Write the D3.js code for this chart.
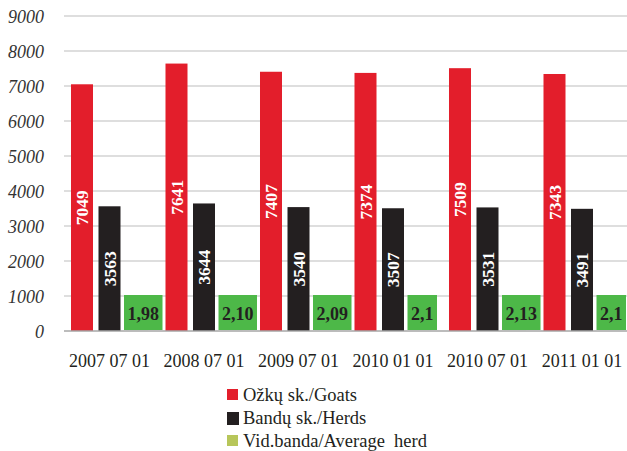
<!DOCTYPE html>
<html>
<head>
<meta charset="utf-8">
<script src="https://cdn.jsdelivr.net/npm/d3@7"></script>
<style>
  html, body { margin: 0; padding: 0; background: #fff; }
  svg { display: block; }
</style>
</head>
<body>
<div id="chart"></div>
<script>
// Goat numbers, herd counts and average herd size by date
const dates = ["2007 07 01", "2008 07 01", "2009 07 01", "2010 01 01", "2010 07 01", "2011 01 01"];
const goats = [7049, 7641, 7407, 7374, 7509, 7343];
const herds = [3563, 3644, 3540, 3507, 3531, 3491];
const avgHerd = [1.98, 2.10, 2.09, 2.1, 2.13, 2.1];
const avgHerdLabels = ["1,98", "2,10", "2,09", "2,1", "2,13", "2,1"];
const yTicks = [0, 1000, 2000, 3000, 4000, 5000, 6000, 7000, 8000, 9000];
const seriesNames = ["Ožkų sk./Goats", "Bandų sk./Herds", "Vid.banda/Average  herd"];
const seriesKeys = ["goats", "herds", "avg"];

const W = 627, H = 451;
const FONT = '"Liberation Serif", "Times New Roman", serif';
const colors = { goats: "#e31e2b", herds: "#231f20", avg: "#4db848" };
const legendColors = ["#e31e2b", "#231f20", "#b7c65a"];

const svg = d3.select("#chart").append("svg")
  .attr("width", W).attr("height", H);

const y = d3.scaleLinear().domain([0, 9000]).range([331, 16]);
const x0 = d3.scaleBand().domain(dates).range([62.25, 629.25]).padding(0);
const x1 = d3.scaleBand().domain(seriesKeys).range([0, x0.bandwidth()])
  .paddingInner(0.2).paddingOuter(0.318);

// Horizontal gridlines
svg.append("g").selectAll("line")
  .data(yTicks.filter(t => t > 0))
  .join("line")
  .attr("x1", 64).attr("x2", W)
  .attr("y1", d => y(d)).attr("y2", d => y(d))
  .attr("stroke", "#d3d3d3").attr("stroke-width", 1.6);

// Y axis labels
const yAxis = d3.axisLeft(y).tickValues(yTicks).tickFormat(d3.format("d"))
  .tickSize(0).tickPadding(0);
const gy = svg.append("g").attr("transform", "translate(44,0)").call(yAxis);
gy.select(".domain").remove();
gy.selectAll("text")
  .style("font-family", FONT)
  .style("font-style", "italic")
  .style("font-size", "18px")
  .attr("fill", "#333")
  .attr("dy", "0.34em");

const rows = dates.map((d, i) => ({
  date: d, goats: goats[i], herds: herds[i], avg: avgHerd[i], avgLabel: avgHerdLabels[i]
}));

const groups = svg.append("g").selectAll("g")
  .data(rows).join("g")
  .attr("transform", d => `translate(${x0(d.date)},0)`);

// Goats and herds bars with rotated value labels
["goats", "herds"].forEach(k => {
  groups.append("rect")
    .attr("x", x1(k)).attr("width", x1.bandwidth())
    .attr("y", d => y(d[k])).attr("height", d => y(0) - y(d[k]))
    .attr("fill", colors[k]);
  groups.append("text")
    .attr("transform", d => `translate(${x1(k) + x1.bandwidth() / 2},${(y(d[k]) + y(0)) / 2}) rotate(-90)`)
    .attr("text-anchor", "middle").attr("dy", "0.35em")
    .style("font-family", FONT)
    .style("font-size", "17.5px").style("font-weight", "bold")
    .attr("fill", "#fff")
    .text(d => d[k]);
});

// Average herd bars (same scale) with boxed value labels
groups.append("rect")
  .attr("x", x1("avg")).attr("width", x1.bandwidth())
  .attr("y", d => y(d.avg)).attr("height", d => y(0) - y(d.avg))
  .attr("fill", colors.avg);

const avgText = groups.append("text")
  .attr("x", x1("avg") + 1.5)
  .attr("y", 320)
  .style("font-family", FONT)
  .style("font-size", "18px").style("font-weight", "bold")
  .attr("fill", "#231f20")
  .text(d => d.avgLabel);

avgText.each(function () {
  const bb = this.getBBox();
  d3.select(this.parentNode).insert("rect", ":first-child")
    .attr("x", bb.x - 3.5).attr("width", bb.width + 7)
    .attr("y", 295).attr("height", 35)
    .attr("fill", colors.avg);
});

// Baseline
svg.append("line")
  .attr("x1", 64).attr("x2", W)
  .attr("y1", y(0)).attr("y2", y(0))
  .attr("stroke", "#a6a6a6").attr("stroke-width", 1.6);

// Category labels
const xAxis = d3.axisBottom(x0).tickSize(0).tickPadding(0);
const gx = svg.append("g").attr("transform", "translate(0,367)").call(xAxis);
gx.select(".domain").remove();
gx.selectAll("text")
  .style("font-family", FONT)
  .style("font-size", "18px")
  .attr("fill", "#231f20")
  .attr("dy", 0);

// Legend
const legend = svg.append("g").attr("transform", "translate(227,389)");
const li = legend.selectAll("g").data(seriesNames).join("g")
  .attr("transform", (d, i) => `translate(0,${i * 23})`);
li.append("rect")
  .attr("width", (d, i) => i === 1 ? 12 : 11)
  .attr("height", (d, i) => i === 1 ? 13 : 11)
  .attr("fill", (d, i) => legendColors[i]);
li.append("text")
  .attr("x", 16).attr("y", 12)
  .style("font-family", FONT)
  .style("font-size", "18.5px")
  .style("white-space", "pre")
  .attr("fill", "#231f20")
  .text(d => d);
</script>
</body>
</html>
